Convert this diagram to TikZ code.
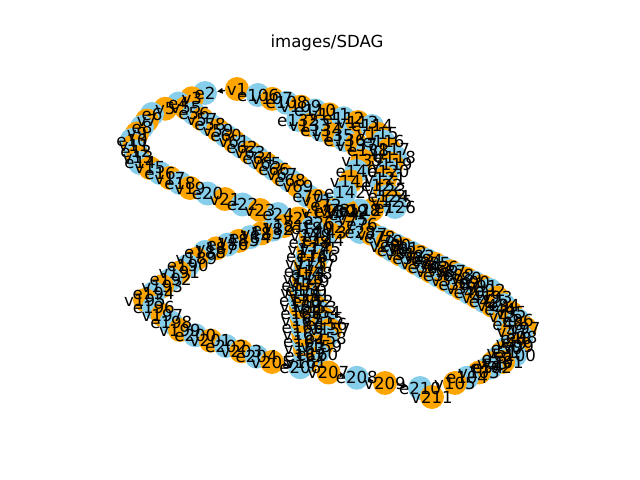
\documentclass[tikz,border=0pt]{standalone}
\usepackage{fontspec}
\setmainfont{DejaVu Sans}
\usetikzlibrary{calc,arrows.meta}
\pgfdeclarelayer{bg}
\pgfsetlayers{bg,main}

% place nodes #1..#2 evenly from point #3 to point #4
\newcommand{\strand}[4]{%
  \foreach \k in {#1,...,#2}{%
    \pgfmathsetmacro\st{(\k-#1)/(#2-#1)}%
    \coordinate (p\k) at ($#3!\st!#4$);}}

\definecolor{vorange}{RGB}{255,165,0}
\definecolor{eblue}{RGB}{135,206,235}

\begin{document}
\begin{tikzpicture}[x=0.01in,y=-0.01in,
    vnode/.style={circle,fill=vorange,minimum size=17.3pt,inner sep=0pt},
    enode/.style={circle,fill=eblue,minimum size=17.3pt,inner sep=0pt},
    lbl/.style={font=\fontsize{12}{14}\selectfont,inner sep=0pt},
    arc/.style={-{Triangle[length=4pt,width=4pt]},line width=1pt}]
  \useasboundingbox (0,0) rectangle (640,480);
  \node[lbl] (title) at (327,43) {images/SDAG};

  % first chain
  \coordinate (p1) at (237,89);
  \strand{2}{6}{(205,93)}{(152,114)}
  \strand{6}{10}{(152,114)}{(132,140)}
  \strand{10}{14}{(132,140)}{(140,163)}
  \strand{14}{19}{(140,163)}{(190,188)}
  \strand{19}{23}{(190,188)}{(260,210)}
  \strand{24}{28}{(278,214)}{(360,232)}
  \strand{29}{44}{(385,246)}{(500,310)}
  \strand{44}{48}{(500,310)}{(516,338)}
  \strand{48}{54}{(516,338)}{(488,368)}
  \strand{55}{69}{(186,108)}{(298,186)}
  \strand{70}{76}{(308,196)}{(362,224)}
  \strand{77}{92}{(372,234)}{(490,290)}
  \strand{92}{97}{(490,290)}{(525,328)}
  \strand{97}{100}{(525,328)}{(515,355)}
  \strand{101}{105}{(503,362)}{(455,383)}
  % second chain
  \strand{106}{114}{(258,95)}{(372,126)}
  \strand{114}{118}{(372,126)}{(395,157)}
  \strand{118}{122}{(395,157)}{(382,185)}
  \strand{122}{126}{(382,185)}{(395,207)}
  \strand{127}{131}{(372,210)}{(322,212)}
  \strand{132}{138}{(298,120)}{(368,150)}
  \strand{138}{142}{(368,150)}{(345,192)}
  \strand{143}{150}{(326,232)}{(306,290)}
  \strand{150}{157}{(306,290)}{(330,330)}
  \strand{157}{161}{(330,330)}{(313,362)}
  \strand{161}{170}{(306,362)}{(300,300)}
  \strand{170}{180}{(300,300)}{(312,228)}
  \strand{181}{188}{(284,226)}{(205,252)}
  \strand{188}{195}{(205,252)}{(145,300)}
  \strand{195}{199}{(145,300)}{(180,330)}
  \strand{199}{205}{(180,330)}{(272,362)}
  \strand{205}{209}{(272,362)}{(385,383)}
  \coordinate (p210) at (420,388);
  \coordinate (p211) at (432,397);

  % circles
  \foreach \k in {1,...,211}{%
    \ifodd\k\relax \node[vnode] (n\k) at (p\k) {};
    \else \node[enode] (n\k) at (p\k) {}; \fi}

  % arcs under the circles
  \begin{pgfonlayer}{bg}
    \foreach \s/\f in {1/53,55/104,106/130,132/141,143/210}{%
      \foreach \k in {\s,...,\f}{%
        \pgfmathtruncatemacro\nx{\k+1}%
        \draw[arc] (n\k) -- (n\nx);}}
    \draw[arc] (n1) -- (n106);
  \end{pgfonlayer}

  % labels on top
  \foreach \k in {1,...,211}{%
    \ifodd\k\relax \node[lbl] (t\k) at (n\k) {v\k};
    \else \node[lbl] (t\k) at (n\k) {e\k}; \fi}
\end{tikzpicture}
\end{document}
